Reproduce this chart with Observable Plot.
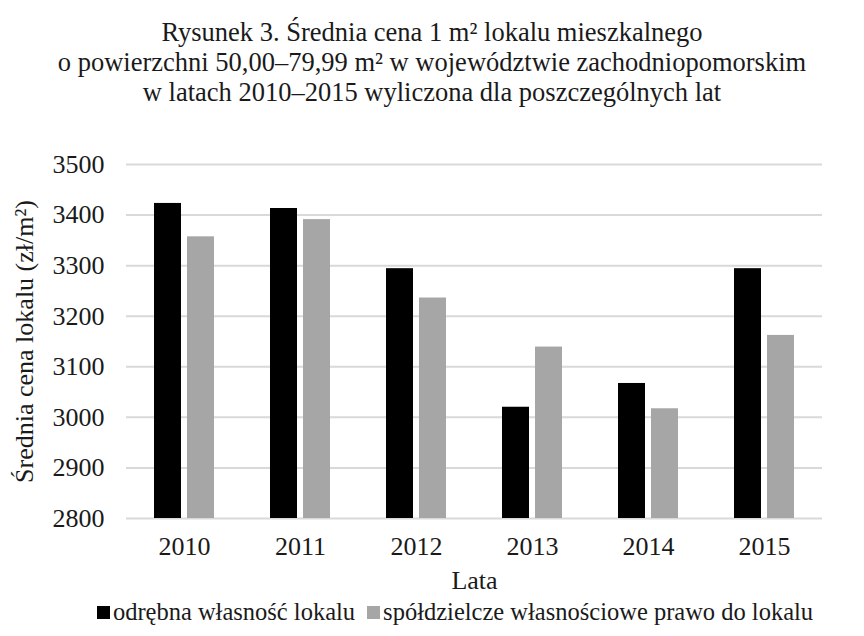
<!DOCTYPE html>
<html><head><meta charset="utf-8">
<script src="https://cdn.jsdelivr.net/npm/d3@7"></script>
<script src="https://cdn.jsdelivr.net/npm/@observablehq/plot@0.6"></script>
<style>
body{margin:0;background:#fff;font-family:"Liberation Serif",serif;color:#1a1a1a}
#title{width:864px;text-align:center;font-family:"Liberation Serif",serif;font-size:26.5px;line-height:30px;padding-top:17px;height:120px;box-sizing:border-box}
#legend{width:864px;display:flex;justify-content:center;align-items:center;font-family:"Liberation Serif",serif;font-size:24.5px;height:36px;margin-top:-6px;padding-left:46px;box-sizing:border-box}
.item{display:flex;align-items:center;margin:0 2px}
.item + .item{margin-left:10px}
.sw{width:13px;height:13px;margin-right:3px}
svg text{font-family:"Liberation Serif",serif}
</style></head><body>
<div id="title">Rysunek 3. Średnia cena 1 m² lokalu mieszkalnego<br>o powierzchni 50,00–79,99 m² w województwie zachodniopomorskim<br>w latach 2010–2015 wyliczona dla poszczególnych lat</div>
<div id="chart"></div>
<div id="legend"></div>
<script>
const years = ["2010", "2011", "2012", "2013", "2014", "2015"];
const seriesNames = ["odrębna własność lokalu", "spółdzielcze własnościowe prawo do lokalu"];
const odrebna = [3423, 3413, 3294, 3020, 3067, 3294];
const spoldzielcze = [3357, 3391, 3236, 3139, 3017, 3162];
const yTicks = [2800, 2900, 3000, 3100, 3200, 3300, 3400, 3500];
const colors = ["#000000", "#a6a6a6"];
const yLabel = "Średnia cena lokalu (zł/m²)";
const xLabel = "Lata";

const data = [];
years.forEach((y, i) => {
  data.push({year: y, series: seriesNames[0], value: odrebna[i]});
  data.push({year: y, series: seriesNames[1], value: spoldzielcze[i]});
});
const yMin = yTicks[0], yMax = yTicks[yTicks.length - 1];

const chart = Plot.plot({
  width: 864,
  height: 480,
  marginTop: 44,
  marginBottom: 82,
  marginLeft: 125,
  marginRight: 42,
  style: {fontFamily: "'Liberation Serif', serif", fontSize: "26px", color: "#1a1a1a", background: "#fff"},
  fx: {domain: years, padding: 0, label: null},
  x: {domain: seriesNames, paddingInner: 0.18, paddingOuter: 0.8, axis: null},
  y: {domain: [yMin, yMax], ticks: yTicks},
  color: {domain: seriesNames, range: colors},
  marks: [
    Plot.gridY(yTicks, {stroke: "#d9d9d9", strokeOpacity: 1, strokeWidth: 2}),
    Plot.rectY(data, {fx: "year", x: "series", y1: () => yMin, y2: "value", fill: "series"}),
    Plot.axisY(yTicks, {tickSize: 0, tickPadding: 22, tickFormat: d => String(d), label: yLabel, labelAnchor: "center", labelArrow: "none", labelOffset: 112, fontSize: 26}),
    Plot.axisFx({anchor: "bottom", tickSize: 0, tickPadding: 18, label: xLabel, labelAnchor: "center", labelArrow: "none", labelOffset: 70, fontSize: 26})
  ]
});
document.getElementById("chart").appendChild(chart);

const legend = document.getElementById("legend");
seriesNames.forEach((s, i) => {
  const it = document.createElement("div");
  it.className = "item";
  const sw = document.createElement("div");
  sw.className = "sw";
  sw.style.background = colors[i];
  const t = document.createElement("span");
  t.textContent = s;
  it.appendChild(sw); it.appendChild(t);
  legend.appendChild(it);
});
</script>
</body></html>
